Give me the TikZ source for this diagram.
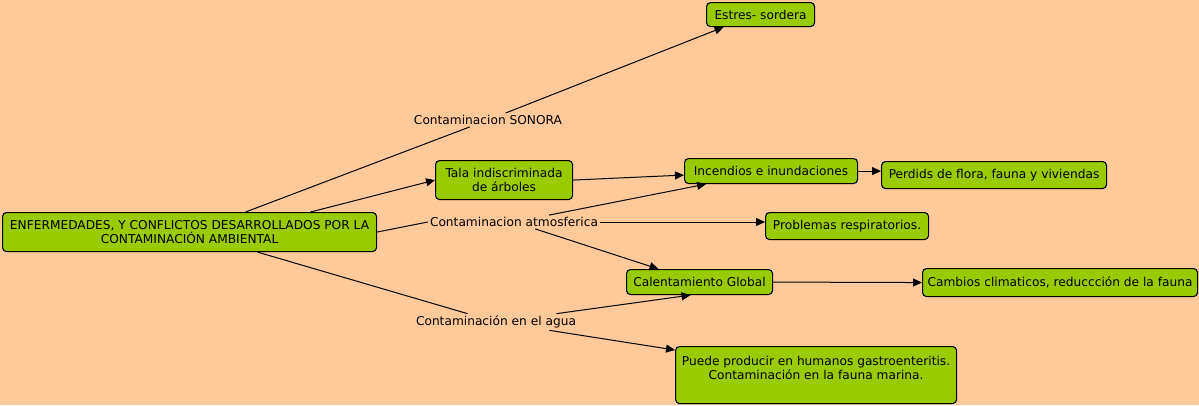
\documentclass[tikz,border=0pt]{standalone}
\usepackage{fontspec}
\setmainfont{DejaVu Sans}
\usetikzlibrary{arrows.meta}
\definecolor{mapbg}{RGB}{255,201,153}
\definecolor{conceptgreen}{RGB}{153,204,0}

\begin{document}
\begin{tikzpicture}[x=1pt,y=-1pt]
    \pgfmathsetmacro{\boxrounding}{4}
    \pgfmathsetmacro{\boxline}{1.1}
    \providecommand{\conceptfontsize}{\fontsize{12.2pt}{14.5pt}\selectfont}
    \tikzset{
        concept/.style={draw,fill=conceptgreen,rounded corners=\boxrounding pt,line width=\boxline pt,
            inner sep=0pt,anchor=north west,align=center,font=\conceptfontsize},
        linkword/.style={inner sep=2pt,font=\conceptfontsize},
        link/.style={line width=1pt},
        linkto/.style={line width=1pt,-{Triangle[length=9pt,width=8pt]}}
    }
    \useasboundingbox (0,0) rectangle (1199,405);
    \fill[mapbg] (0,0) rectangle (1199,405);

    \node[concept,minimum width=374pt,minimum height=39pt](main) at (2,212)
        {ENFERMEDADES, Y CONFLICTOS DESARROLLADOS POR LA\\CONTAMINACIÓN AMBIENTAL};
    \node[concept,minimum width=108pt,minimum height=24pt](estres) at (706,2){Estres- sordera};
    \node[concept,minimum width=137pt,minimum height=39pt](tala) at (435,160){Tala indiscriminada\\de árboles};
    \node[concept,minimum width=173pt,minimum height=25pt](incendios) at (684,158){Incendios e inundaciones};
    \node[concept,minimum width=225pt,minimum height=27pt](perdidas) at (881,161){Perdids de flora, fauna y viviendas};
    \node[concept,minimum width=163pt,minimum height=27pt](respira) at (765,212){Problemas respiratorios.};
    \node[concept,minimum width=146pt,minimum height=25pt](calent) at (626,269){Calentamiento Global};
    \node[concept,minimum width=275pt,minimum height=28pt](cambios) at (922,268){Cambios climaticos, reduccción de la fauna};
    \node[concept,minimum width=281pt,minimum height=57pt](puede) at (675,346)
        {Puede producir en humanos gastroenteritis.\\Contaminación en la fauna marina.\\\mbox{}};

    \node[linkword](sonora) at (488,120){Contaminacion SONORA};
    \node[linkword](atmos) at (514,222){Contaminacion atmosferica};
    \node[linkword](agua) at (496,322){Contaminación en el agua};

    \draw[link] ([xshift=56pt]main.north) -- (sonora);
    \draw[linkto] (sonora) -- ([xshift=-37pt]estres.south);
    \draw[linkto] ([xshift=121pt]main.north) -- (tala.west);
    \draw[linkto] (tala.east) -- ([yshift=-4pt]incendios.west);
    \draw[linkto] (incendios.east) -- (perdidas.west |- incendios.east);
    \draw[link] (main.east) -- (atmos.west);
    \draw[linkto] (atmos) -- ([xshift=-65pt]incendios.south);
    \draw[linkto] (atmos.east) -- (respira.west |- atmos.east);
    \draw[linkto] (atmos) -- ([xshift=-41pt]calent.north);
    \draw[linkto] (calent.east) -- (cambios.west);
    \draw[link] ([xshift=68pt]main.south) -- (agua);
    \draw[linkto] (agua) -- ([xshift=-9pt]calent.south);
    \draw[linkto] (agua) -- ([yshift=-4pt]puede.north west);
\end{tikzpicture}
\end{document}
